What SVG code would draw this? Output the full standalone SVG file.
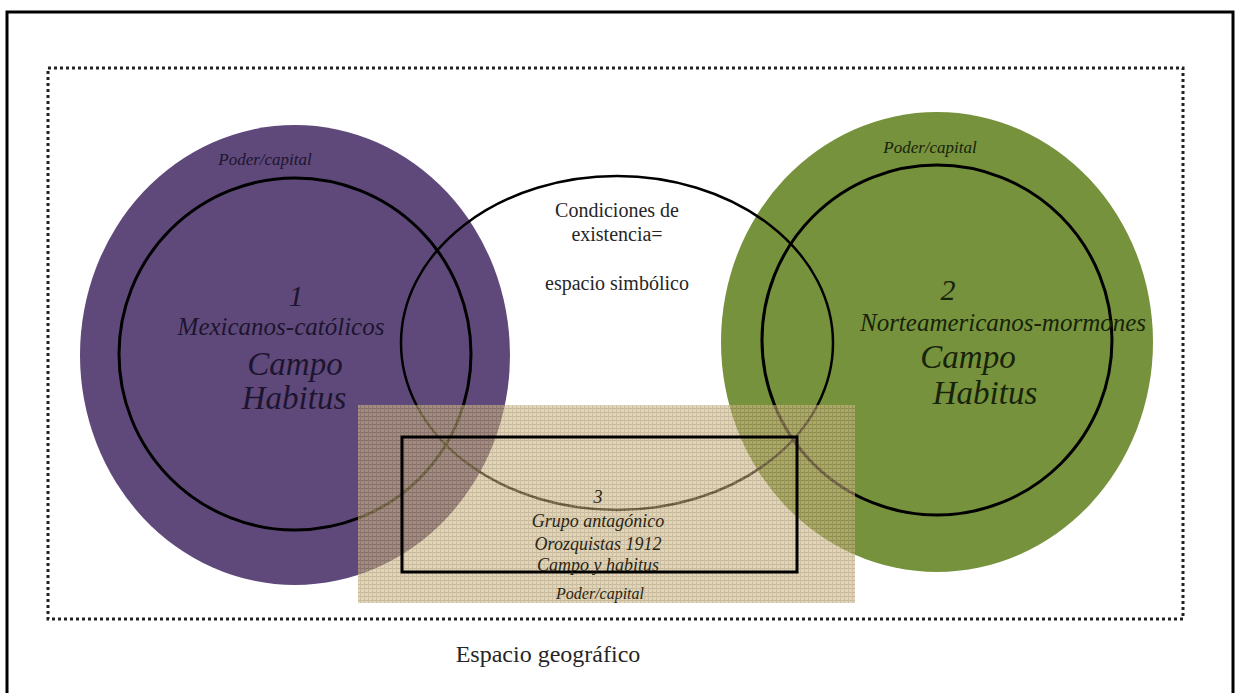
<svg xmlns="http://www.w3.org/2000/svg" width="1239" height="693" viewBox="0 0 1239 693">
  <style>
    .it { font-family: "Liberation Serif", "Times New Roman", serif; font-style: italic; text-anchor: middle; }
    .rg { font-family: "Liberation Serif", "Times New Roman", serif; text-anchor: middle; fill: #262626; }
    .ring { fill: none; stroke: #000; stroke-width: 3; }
    .pt { fill: #1d1530; }
    .gt { fill: #17230a; }
    .tt { fill: #2a2414; }
  </style>
  <defs>
    <pattern id="burlap" width="4" height="4" patternUnits="userSpaceOnUse">
      <rect width="4" height="4" fill="#CFB982"/>
      <path d="M0 0.5H4" stroke="#A08A5A" stroke-width="1"/>
      <path d="M0.5 0V4" stroke="#AB956A" stroke-width="1"/>
    </pattern>
  </defs>

  <g id="frame">
    <rect x="7" y="12" width="1226" height="700" fill="#fff" stroke="#000" stroke-width="3"/>
    <rect x="48" y="68" width="1135" height="551" fill="none" stroke="#222" stroke-width="3" stroke-dasharray="3 3"/>
  </g>

  <g id="node-mexicanos">
    <ellipse cx="295" cy="355" rx="215" ry="230" fill="#5F497A"/>
    <ellipse class="ring" cx="295" cy="354" rx="176" ry="176"/>
  </g>

  <g id="node-norteamericanos">
    <ellipse cx="937" cy="342" rx="216" ry="230" fill="#76923C"/>
    <ellipse class="ring" cx="937" cy="340" rx="175" ry="175"/>
  </g>

  <g id="node-condiciones">
    <ellipse cx="617" cy="343" rx="216" ry="167" fill="none" stroke="#000" stroke-width="2.5"/>
    <text class="rg" font-size="20" x="617" y="217">Condiciones de</text>
    <text class="rg" font-size="20" x="617" y="241">existencia=</text>
    <text class="rg" font-size="20" x="617" y="290">espacio simbólico</text>
  </g>

  <g id="node-orozquistas">
    <rect x="358" y="405" width="497" height="198" fill="url(#burlap)" opacity="0.6"/>
    <rect x="402" y="437" width="395" height="135" fill="none" stroke="#000" stroke-width="3"/>
    <text class="it tt" font-size="18" x="598" y="503">3</text>
    <text class="it tt" font-size="18" x="598" y="527">Grupo antagónico</text>
    <text class="it tt" font-size="18" x="598" y="550">Orozquistas 1912</text>
    <text class="it tt" font-size="18" x="598" y="571">Campo y habitus</text>
    <text class="it tt" font-size="16" x="600" y="599">Poder/capital</text>
  </g>

  <g id="labels-mexicanos">
    <text class="it pt" font-size="17" x="265" y="165">Poder/capital</text>
    <text class="it pt" font-size="30" x="296" y="306">1</text>
    <text class="it pt" font-size="25" x="281" y="335">Mexicanos-católicos</text>
    <text class="it pt" font-size="33" x="295" y="375">Campo</text>
    <text class="it pt" font-size="33" x="294" y="409">Habitus</text>
  </g>

  <g id="labels-norteamericanos">
    <text class="it gt" font-size="17" x="930" y="153">Poder/capital</text>
    <text class="it gt" font-size="30" x="948" y="300">2</text>
    <text class="it gt" font-size="25" x="1003" y="331">Norteamericanos-mormones</text>
    <text class="it gt" font-size="33" x="968" y="368">Campo</text>
    <text class="it gt" font-size="33" x="985" y="404">Habitus</text>
  </g>

  <g id="connectors"></g>

  <g id="label-espacio">
    <text class="rg" font-size="24" x="548" y="662">Espacio geográfico</text>
  </g>
</svg>
